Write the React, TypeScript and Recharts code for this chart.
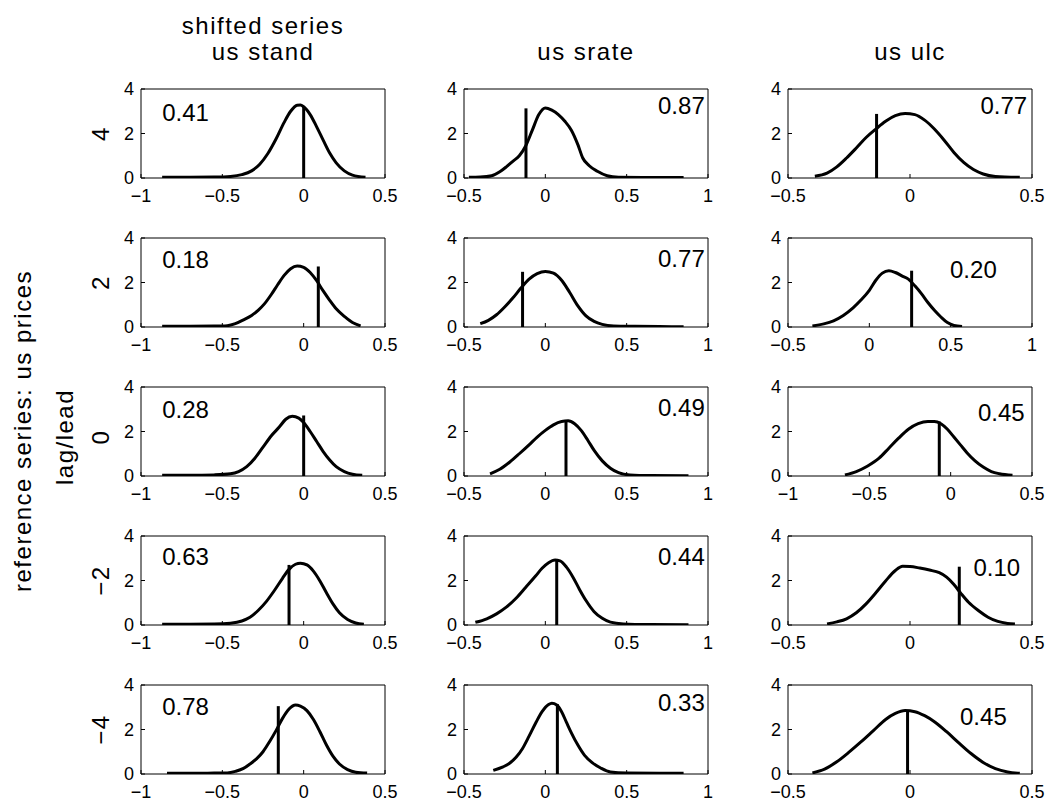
import React from "react";
import { LineChart, Line, XAxis, YAxis, ReferenceLine, ReferenceDot } from "recharts";

const FONT = '"Liberation Sans", Arial, Helvetica, sans-serif';

type Pt = [number, number];

// headings
const columnNames = ["us stand", "us srate", "us ulc"];
const rowLags = ["4", "2", "0", "−2", "−4"];

// tick sets
const ticksWide = [-1, -0.5, 0, 0.5];
const ticksRight = [-0.5, 0, 0.5, 1];
const ticksMid = [-0.5, 0, 0.5];
const yTicks = [0, 2, 4];

// densities, column "us stand"
const standLead4: Pt[] = [[-0.87, 0.03], [-0.7, 0.03], [-0.55, 0.04], [-0.45, 0.07], [-0.38, 0.15], [-0.32, 0.32], [-0.27, 0.62], [-0.22, 1.1], [-0.17, 1.75], [-0.12, 2.5], [-0.08, 3.0], [-0.04, 3.27], [-0.02, 3.28], [0, 3.2], [0.04, 2.85], [0.08, 2.3], [0.12, 1.7], [0.16, 1.12], [0.2, 0.68], [0.25, 0.32], [0.3, 0.13], [0.38, 0.03]];
const standLead2: Pt[] = [[-0.87, 0.03], [-0.7, 0.03], [-0.55, 0.04], [-0.47, 0.06], [-0.42, 0.15], [-0.37, 0.32], [-0.32, 0.52], [-0.28, 0.75], [-0.24, 1.05], [-0.2, 1.45], [-0.16, 1.9], [-0.12, 2.32], [-0.08, 2.62], [-0.04, 2.74], [0, 2.68], [0.04, 2.45], [0.08, 2.08], [0.12, 1.62], [0.16, 1.2], [0.2, 0.82], [0.25, 0.48], [0.3, 0.2], [0.35, 0.05]];
const standLag0: Pt[] = [[-0.87, 0.03], [-0.7, 0.03], [-0.55, 0.05], [-0.45, 0.1], [-0.4, 0.2], [-0.35, 0.42], [-0.3, 0.8], [-0.25, 1.3], [-0.2, 1.8], [-0.15, 2.2], [-0.11, 2.55], [-0.07, 2.68], [-0.03, 2.6], [0, 2.4], [0.04, 2.0], [0.08, 1.55], [0.12, 1.1], [0.16, 0.72], [0.2, 0.42], [0.25, 0.2], [0.3, 0.08], [0.36, 0.03]];
const standLag2: Pt[] = [[-0.87, 0.03], [-0.7, 0.03], [-0.55, 0.04], [-0.45, 0.08], [-0.38, 0.18], [-0.33, 0.35], [-0.28, 0.65], [-0.23, 1.05], [-0.18, 1.55], [-0.13, 2.1], [-0.09, 2.5], [-0.05, 2.73], [-0.02, 2.78], [0.02, 2.7], [0.06, 2.42], [0.1, 1.98], [0.14, 1.45], [0.18, 0.95], [0.22, 0.55], [0.27, 0.25], [0.32, 0.09], [0.37, 0.03]];
const standLag4: Pt[] = [[-0.84, 0.03], [-0.7, 0.03], [-0.55, 0.04], [-0.47, 0.05], [-0.42, 0.12], [-0.37, 0.25], [-0.33, 0.45], [-0.29, 0.68], [-0.25, 1.0], [-0.21, 1.45], [-0.17, 1.95], [-0.13, 2.5], [-0.09, 2.92], [-0.05, 3.1], [-0.02, 3.05], [0.02, 2.85], [0.06, 2.45], [0.1, 1.9], [0.14, 1.3], [0.18, 0.8], [0.22, 0.45], [0.27, 0.2], [0.32, 0.08], [0.39, 0.04]];

// column "us srate"
const srateLead4: Pt[] = [[-0.47, 0.03], [-0.4, 0.04], [-0.33, 0.1], [-0.28, 0.28], [-0.24, 0.5], [-0.2, 0.75], [-0.16, 1.0], [-0.12, 1.45], [-0.08, 2.15], [-0.04, 2.85], [0, 3.15], [0.04, 3.05], [0.08, 2.85], [0.12, 2.55], [0.16, 2.15], [0.2, 1.5], [0.23, 0.9], [0.27, 0.55], [0.32, 0.3], [0.38, 0.1], [0.45, 0.03], [0.6, 0.02], [0.85, 0.02]];
const srateLead2: Pt[] = [[-0.4, 0.15], [-0.35, 0.3], [-0.3, 0.55], [-0.25, 0.9], [-0.2, 1.3], [-0.15, 1.75], [-0.1, 2.15], [-0.05, 2.4], [0, 2.5], [0.05, 2.42], [0.1, 2.1], [0.15, 1.55], [0.2, 0.95], [0.25, 0.5], [0.3, 0.25], [0.35, 0.12], [0.42, 0.05], [0.55, 0.03], [0.7, 0.02], [0.85, 0.01]];
const srateLag0: Pt[] = [[-0.34, 0.1], [-0.28, 0.3], [-0.22, 0.62], [-0.16, 1.0], [-0.1, 1.4], [-0.05, 1.75], [0, 2.05], [0.05, 2.3], [0.1, 2.45], [0.14, 2.48], [0.18, 2.35], [0.22, 2.05], [0.26, 1.62], [0.3, 1.15], [0.35, 0.68], [0.4, 0.35], [0.45, 0.15], [0.52, 0.05], [0.65, 0.02], [0.88, 0.01]];
const srateLag2: Pt[] = [[-0.43, 0.12], [-0.36, 0.28], [-0.3, 0.5], [-0.24, 0.8], [-0.18, 1.2], [-0.12, 1.7], [-0.06, 2.2], [-0.02, 2.55], [0.02, 2.8], [0.06, 2.92], [0.09, 2.88], [0.13, 2.6], [0.17, 2.15], [0.21, 1.6], [0.25, 1.1], [0.3, 0.6], [0.35, 0.3], [0.4, 0.13], [0.48, 0.05], [0.65, 0.02], [0.88, 0.01]];
const srateLag4: Pt[] = [[-0.32, 0.16], [-0.26, 0.32], [-0.22, 0.48], [-0.18, 0.75], [-0.14, 1.15], [-0.1, 1.7], [-0.06, 2.28], [-0.02, 2.8], [0.02, 3.12], [0.04, 3.18], [0.07, 3.1], [0.1, 2.8], [0.13, 2.32], [0.16, 1.85], [0.2, 1.3], [0.24, 0.85], [0.29, 0.5], [0.34, 0.27], [0.4, 0.09], [0.5, 0.04], [0.7, 0.03], [0.85, 0.03]];

// column "us ulc"
const ulcLead4: Pt[] = [[-0.39, 0.08], [-0.34, 0.22], [-0.3, 0.5], [-0.26, 0.9], [-0.22, 1.35], [-0.18, 1.82], [-0.14, 2.2], [-0.1, 2.55], [-0.06, 2.8], [-0.02, 2.9], [0.02, 2.85], [0.06, 2.6], [0.1, 2.2], [0.14, 1.7], [0.18, 1.15], [0.22, 0.7], [0.26, 0.38], [0.3, 0.18], [0.35, 0.07], [0.45, 0.03]];
const ulcLead2: Pt[] = [[-0.35, 0.05], [-0.28, 0.14], [-0.22, 0.28], [-0.16, 0.52], [-0.1, 0.86], [-0.05, 1.22], [0, 1.65], [0.04, 2.1], [0.08, 2.42], [0.12, 2.53], [0.16, 2.45], [0.2, 2.3], [0.24, 2.15], [0.28, 1.85], [0.32, 1.5], [0.36, 1.1], [0.4, 0.75], [0.44, 0.45], [0.48, 0.2], [0.52, 0.07], [0.57, 0.02]];
const ulcLag0: Pt[] = [[-0.65, 0.05], [-0.58, 0.2], [-0.51, 0.45], [-0.44, 0.8], [-0.38, 1.25], [-0.32, 1.7], [-0.26, 2.1], [-0.2, 2.35], [-0.14, 2.45], [-0.1, 2.45], [-0.06, 2.35], [-0.02, 2.1], [0.02, 1.75], [0.06, 1.4], [0.1, 1.05], [0.15, 0.68], [0.2, 0.4], [0.25, 0.2], [0.3, 0.1], [0.38, 0.03]];
const ulcLag2: Pt[] = [[-0.34, 0.05], [-0.3, 0.14], [-0.26, 0.28], [-0.22, 0.55], [-0.18, 0.95], [-0.14, 1.45], [-0.1, 1.98], [-0.06, 2.45], [-0.03, 2.64], [0, 2.63], [0.04, 2.56], [0.08, 2.47], [0.12, 2.35], [0.15, 2.15], [0.18, 1.82], [0.21, 1.4], [0.24, 1.02], [0.28, 0.65], [0.32, 0.35], [0.36, 0.16], [0.4, 0.07], [0.43, 0.04]];
const ulcLag4: Pt[] = [[-0.4, 0.05], [-0.35, 0.22], [-0.3, 0.55], [-0.25, 0.98], [-0.2, 1.45], [-0.15, 1.95], [-0.1, 2.45], [-0.06, 2.72], [-0.02, 2.85], [0.02, 2.8], [0.06, 2.62], [0.1, 2.35], [0.15, 1.9], [0.2, 1.4], [0.25, 0.92], [0.3, 0.52], [0.35, 0.24], [0.4, 0.09], [0.45, 0.03]];

// observed value (vertical bar) and its height
const standMarks = [0, 0.09, 0, -0.09, -0.156];
const standMarkTops = [3.2, 2.72, 2.72, 2.7, 3.05];
const srateMarks = [-0.119, -0.14, 0.127, 0.07, 0.074];
const srateMarkTops = [3.13, 2.48, 2.5, 2.9, 3.14];
const ulcMarks = [-0.137, 0.26, -0.07, 0.202, -0.01];
const ulcMarkTops = [2.88, 2.53, 2.45, 2.62, 2.85];

// p-values printed in each panel
const standProbs = ["0.41", "0.18", "0.28", "0.63", "0.78"];
const srateProbs = ["0.87", "0.77", "0.49", "0.44", "0.33"];
const ulcProbs = ["0.77", "0.20", "0.45", "0.10", "0.45"];

const standTicks = [ticksWide, ticksWide, ticksWide, ticksWide, ticksWide];
const srateTicks = [ticksRight, ticksRight, ticksRight, ticksRight, ticksRight];
const ulcTicks = [ticksMid, ticksRight, ticksWide, ticksMid, ticksMid];

// layout
const COL_LEFT = [141, 464, 788];
const ROW_TOP = [89, 238, 387, 536, 685];
const PW = 244;
const PH = 89;
const YW = 50;
const MT = 10;
const MR = 18;
const XH = 34;

// where the p-value text sits, in data units of each panel
const standSpots = [
  { x: -0.87, y: 2.95, anchor: "start" },
  { x: -0.87, y: 3.05, anchor: "start" },
  { x: -0.87, y: 3.0, anchor: "start" },
  { x: -0.87, y: 3.08, anchor: "start" },
  { x: -0.87, y: 3.05, anchor: "start" },
];
const srateSpots = [
  { x: 0.98, y: 3.28, anchor: "end" },
  { x: 0.98, y: 3.08, anchor: "end" },
  { x: 0.98, y: 3.08, anchor: "end" },
  { x: 0.98, y: 3.08, anchor: "end" },
  { x: 0.98, y: 3.2, anchor: "end" },
];
const ulcSpots = [
  { x: 0.48, y: 3.28, anchor: "end" },
  { x: 0.496, y: 2.58, anchor: "start" },
  { x: 0.168, y: 2.84, anchor: "start" },
  { x: 0.26, y: 2.58, anchor: "start" },
  { x: 0.205, y: 2.58, anchor: "start" },
];

const columns = [
  { curves: [standLead4, standLead2, standLag0, standLag2, standLag4], marks: standMarks, tops: standMarkTops, probs: standProbs, ticks: standTicks, spots: standSpots },
  { curves: [srateLead4, srateLead2, srateLag0, srateLag2, srateLag4], marks: srateMarks, tops: srateMarkTops, probs: srateProbs, ticks: srateTicks, spots: srateSpots },
  { curves: [ulcLead4, ulcLead2, ulcLag0, ulcLag2, ulcLag4], marks: ulcMarks, tops: ulcMarkTops, probs: ulcProbs, ticks: ulcTicks, spots: ulcSpots },
];

const fmt = (v: number) => (v < 0 ? `−${Math.abs(v)}` : `${v}`);
const tickStyle = { fill: "#000", fontSize: 18, fontFamily: FONT };

function Panel({ left, top, curve, mark, markTop, prob, ticks, spot }: any) {
  const domain = [ticks[0], ticks[ticks.length - 1]];
  const rows = curve.map(([x, y]: Pt) => ({ x, y }));
  return (
    <div style={{ position: "absolute", left: left - YW, top: top - MT - 1 }}>
      <LineChart
        width={YW + PW + 1 + MR}
        height={MT + 1 + PH + XH}
        data={rows}
        margin={{ top: MT, right: MR, bottom: 0, left: 0 }}
      >
        <XAxis
          dataKey="x"
          type="number"
          domain={domain}
          ticks={ticks}
          interval={0}
          allowDataOverflow
          height={XH}
          stroke="#000"
          tickSize={-4}
          tickMargin={15}
          tick={tickStyle}
          tickFormatter={fmt}
        />
        <XAxis xAxisId="top" orientation="top" type="number" domain={domain} ticks={ticks} interval={0} allowDataOverflow height={1} stroke="#000" tickSize={-4} tick={false} />
        <YAxis
          type="number"
          domain={[0, 4]}
          ticks={yTicks}
          interval={0}
          allowDataOverflow
          width={YW}
          stroke="#000"
          tickSize={-4}
          tickMargin={11}
          tick={tickStyle}
        />
        <YAxis yAxisId="right" orientation="right" type="number" domain={[0, 4]} ticks={yTicks} interval={0} width={1} stroke="#000" tickSize={-4} tick={false} />
        <Line type="monotone" dataKey="y" stroke="#000" strokeWidth={3} dot={false} isAnimationActive={false} />
        <ReferenceLine segment={[{ x: mark, y: 0 }, { x: mark, y: markTop }]} stroke="#000" strokeWidth={3} />
        <ReferenceDot
          x={spot.x}
          y={spot.y}
          r={0}
          shape={(p: any) => (
            <text x={p.cx} y={p.cy} textAnchor={spot.anchor} dominantBaseline="central" fontSize={24} fontFamily={FONT} fill="#000">
              {prob}
            </text>
          )}
        />
      </LineChart>
    </div>
  );
}

const headStyle = { fontSize: 24, fontFamily: FONT, letterSpacing: "1.5px", fill: "#000" };

export default function App() {
  return (
    <div style={{ position: "absolute", left: 0, top: 0, width: 1052, height: 803, background: "#fff", overflow: "hidden" }}>
      <svg width={1052} height={803} style={{ position: "absolute", left: 0, top: 0 }}>
        <text x={263} y={34} textAnchor="middle" {...headStyle}>shifted series</text>
        {columnNames.map((name, c) => (
          <text key={name} x={COL_LEFT[c] + PW / 2} y={60} textAnchor="middle" {...headStyle}>{name}</text>
        ))}
        {rowLags.map((lag, r) => (
          <text key={r} transform={`translate(109,${r === 2 ? 437 : ROW_TOP[r] + PH / 2}) rotate(-90)`} textAnchor="middle" {...headStyle}>{lag}</text>
        ))}
        <text transform="translate(73,437) rotate(-90)" textAnchor="middle" {...headStyle}>lag/lead</text>
        <text transform="translate(31,431) rotate(-90)" textAnchor="middle" {...headStyle}>reference series: us prices</text>
      </svg>
      {columns.map((col, c) =>
        col.curves.map((curve, r) => (
          <Panel
            key={`${c}-${r}`}
            left={COL_LEFT[c]}
            top={ROW_TOP[r]}
            curve={curve}
            mark={col.marks[r]}
            markTop={col.tops[r]}
            prob={col.probs[r]}
            ticks={col.ticks[r]}
            spot={col.spots[r]}
          />
        ))
      )}
    </div>
  );
}
